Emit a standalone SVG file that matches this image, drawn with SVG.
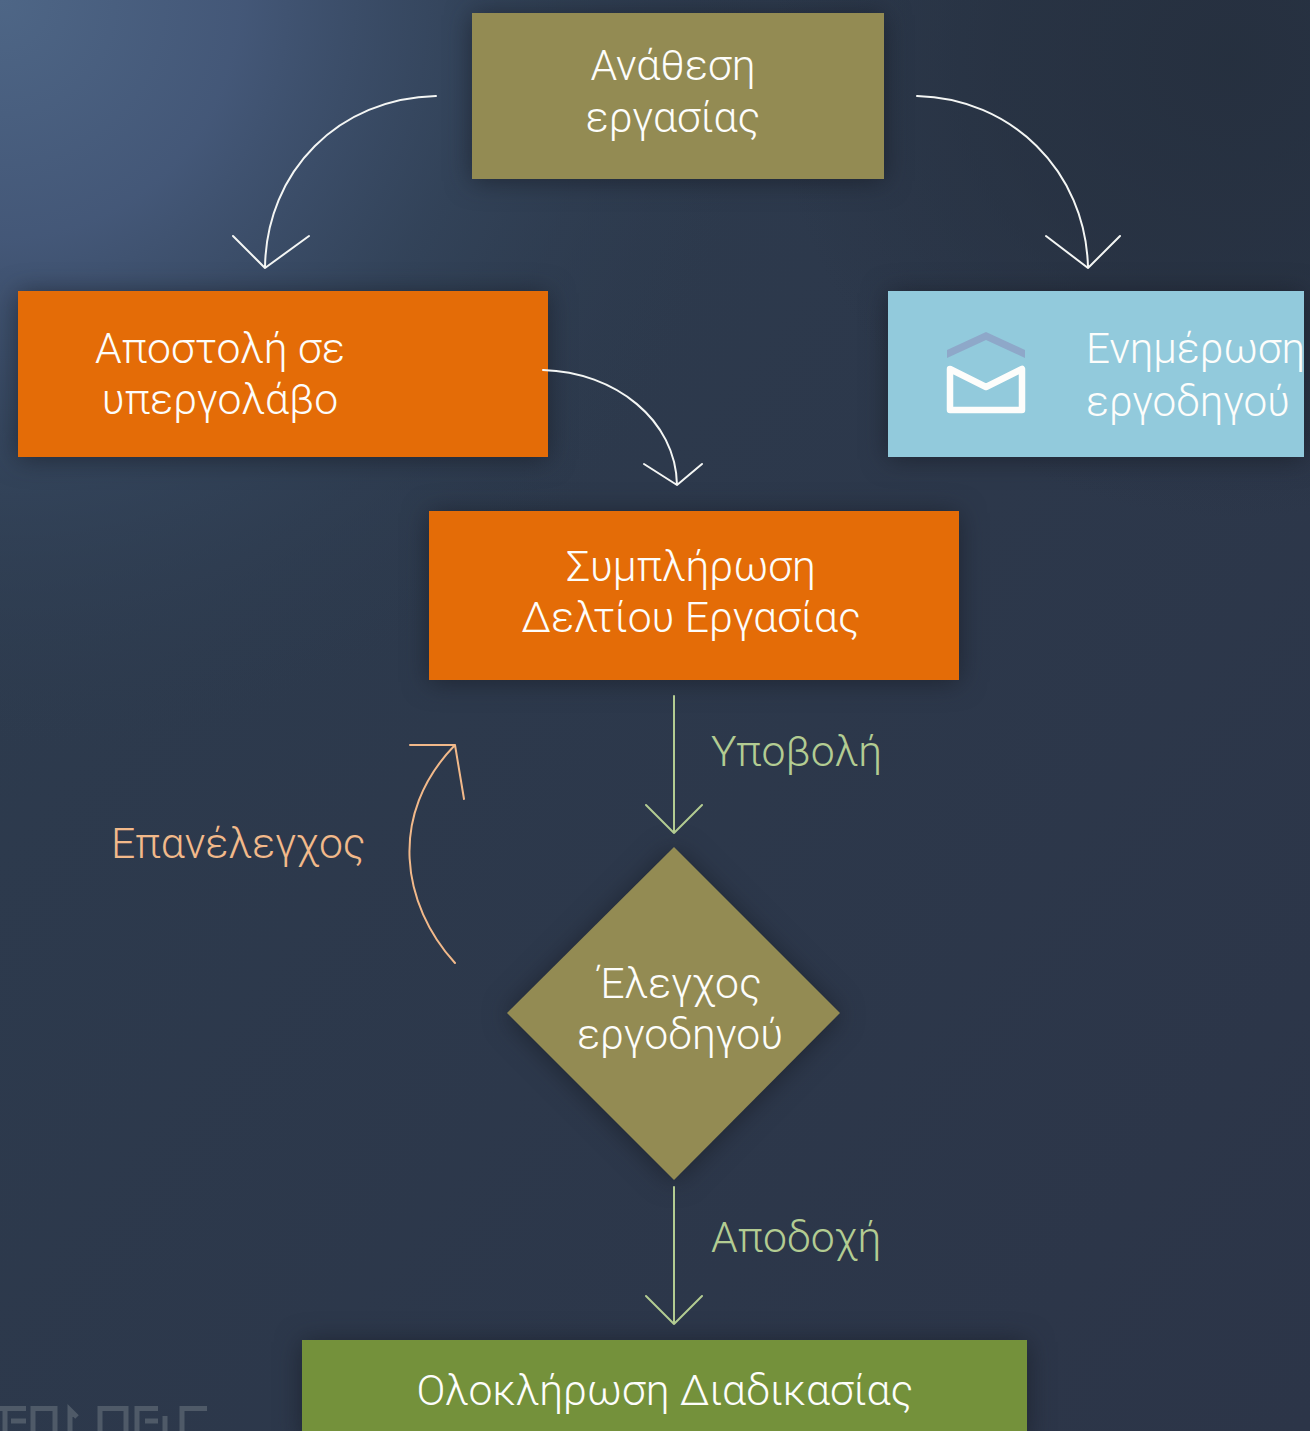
<svg xmlns="http://www.w3.org/2000/svg" width="1310" height="1431" viewBox="0 0 1310 1431">
<defs>
<radialGradient id="glow" gradientUnits="userSpaceOnUse" cx="0" cy="0" r="800"><stop offset="0" stop-color="#4e6686"/><stop offset="0.3" stop-color="#45597a" stop-opacity="0.95"/><stop offset="0.6" stop-color="#34455c" stop-opacity="0.8"/><stop offset="1" stop-color="#2c394b" stop-opacity="0"/></radialGradient>
<radialGradient id="topr" gradientUnits="userSpaceOnUse" cx="1230" cy="60" r="460"><stop offset="0" stop-color="#252f3e" stop-opacity="0.9"/><stop offset="0.5" stop-color="#252f3e" stop-opacity="0.6"/><stop offset="1" stop-color="#252f3e" stop-opacity="0"/></radialGradient>
<linearGradient id="bg0" gradientUnits="userSpaceOnUse" x1="0" y1="400" x2="1310" y2="1431"><stop offset="0" stop-color="#2d3b4e"/><stop offset="1" stop-color="#2c3548"/></linearGradient>
<filter id="sh" x="-20%" y="-40%" width="140%" height="180%" color-interpolation-filters="sRGB"><feDropShadow dx="0" dy="2" stdDeviation="13" flood-color="#14181f" flood-opacity="0.6"/></filter>
</defs>
<style>
text{font-family:Roboto,"Noto Sans",sans-serif;font-weight:300;font-size:42.7px;fill:#fdfdfb}
.m{text-anchor:middle}
.c{fill:none;stroke-linecap:round;stroke-linejoin:round}
.w{stroke:#f4f6f4;stroke-width:2}
.g{stroke:#b3cc92;stroke-width:2}
.o{stroke:#f2b98a;stroke-width:2}
.olive{fill:#938b53}
.orange{fill:#e46c07}
</style>
<rect id="background" width="1310" height="1431" fill="url(#bg0)"/>
<rect width="1310" height="1431" fill="url(#glow)"/>
<rect x="770" y="0" width="540" height="520" fill="url(#topr)"/>
<g id="watermark" fill="none" stroke="#4f5a68" stroke-width="5">
<path d="M0 1408.500H26M5 1408V1431M11 1421H26M33 1431V1408.500H55V1431M70 1431V1410L77 1417M100 1431V1408.500H126V1431M137 1431V1408.500H158M145 1421H158M165 1431V1416M182 1431V1408.500H207"/>
</g>
<g id="node-anathesi"><rect class="olive" x="472" y="13" width="412" height="166" filter="url(#sh)"/>
<text class="m" x="673" y="80">Ανάθεση</text><text class="m" x="673" y="132">εργασίας</text></g>
<g id="node-apostoli"><rect class="orange" x="18" y="291" width="530" height="166" filter="url(#sh)"/>
<text class="m" x="220" y="363">Αποστολή σε</text><text class="m" x="220" y="414">υπεργολάβο</text></g>
<g id="node-enimerosi"><rect x="888" y="291" width="416" height="166" fill="#92cadc" filter="url(#sh)"/>
<path d="M947 350L986 332L1025 350V358L986 340L947 358Z" fill="#8ea8c9"/>
<path d="M950 369L986 387L1022 369V410H950Z" fill="none" stroke="#fdfdfb" stroke-width="6.500" stroke-linejoin="round"/>
<text x="1086" y="363" style="font-size:42.200px">Ενημέρωση</text><text x="1086" y="416" style="font-size:42.200px">εργοδηγού</text></g>
<g id="node-symplirosi"><rect class="orange" x="429" y="511" width="530" height="169" filter="url(#sh)"/>
<text class="m" x="691" y="581">Συμπλήρωση</text><text class="m" x="691" y="632">Δελτίου Εργασίας</text></g>
<g id="node-elegchos"><polygon class="olive" points="674,847 840,1013 674,1180 507,1013" filter="url(#sh)"/>
<text class="m" x="680" y="998">Έλεγχος</text><text class="m" x="680" y="1049">εργοδηγού</text></g>
<g id="node-oloklirosi"><rect x="302" y="1340" width="725" height="100" fill="#74913b" filter="url(#sh)"/>
<text class="m" x="665" y="1405">Ολοκλήρωση Διαδικασίας</text></g>
<g id="connectors">
<path class="c w" d="M436 96C340 98 266 170 265 268M233 236L265 268L309 236"/>
<path class="c w" d="M917 96C1010 98 1086 170 1088 268M1046 236L1088 268L1120 236"/>
<path class="c w" d="M543 370C615 372 676 420 677 485M644 464L677 485L702 464"/>
<path class="c g" d="M674 696V833M646 805L674 833L702 805"/>
<path class="c g" d="M674 1187V1324M646 1296L674 1324L702 1296"/>
<path class="c o" d="M455 963C402 905 387 815 455 745M410 745H455L464 799"/>
</g>
<g id="labels">
<text x="711" y="766" style="fill:#b3cc92">Υποβολή</text>
<text x="711" y="1252" style="fill:#b3cc92">Αποδοχή</text>
<text x="111" y="858" style="fill:#f2b98a">Επανέλεγχος</text>
</g>
</svg>
